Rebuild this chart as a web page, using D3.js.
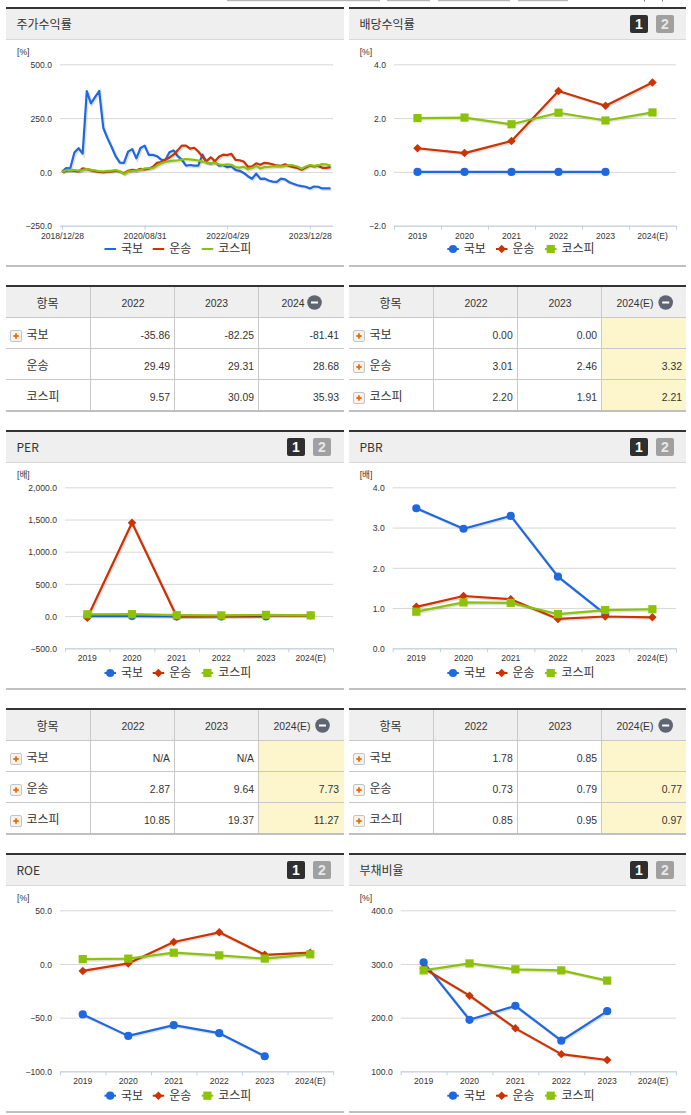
<!DOCTYPE html>
<html lang="ko"><head><meta charset="utf-8">
<script src="https://cdn.jsdelivr.net/npm/d3@7"></script>
<style>
html,body{margin:0;padding:0;background:#fff;overflow:hidden}
svg{display:block}
text{font-family:"Noto Sans CJK KR","Liberation Sans",sans-serif}
.num{font-family:"Liberation Sans",Arial,"Noto Sans CJK KR",sans-serif}
</style></head><body>
<script>
// ---------- data ----------
const seriesNames = ["국보","운송","코스피"];
const seriesColors = ["#2068e0","#cc3300","#8cc20a"];
const years = ["2019","2020","2021","2022","2023","2024(E)"];

const returnTickIndex = [0,20,40,60];
const returnTickLabels = ["2018/12/28","2020/08/31","2022/04/29","2023/12/28"];
const returnKukbo = [0,18,17,90,110,85,376,318,347,376,204,157,116,72,43,42,94,106,63,111,122,79,79,73,57,54,91,100,73,57,29,32,29,29,80,42,39,46,29,32,22,25,9,5,-5,-20,-32,-8,-32,-31,-40,-45,-46,-31,-35,-48,-55,-62,-66,-69,-77,-68,-69,-77,-77,-77];
const returnUnsong = [0,5,8,5,2,16,13,8,3,0,-1,1,2,6,2,-6,5,10,8,14,12,15,24,42,46,58,66,80,100,122,122,108,112,95,70,50,68,50,70,80,78,84,56,54,48,24,26,40,33,42,40,35,30,28,35,28,22,18,10,20,30,26,29,19,19,22];
const returnKospi = [0,8,9,8,6,8,13,10,7,3,2,5,6,8,3,-10,1,4,7,10,16,17,18,28,40,46,50,52,54,57,60,58,56,53,48,43,40,42,35,33,35,33,22,20,24,12,18,28,16,22,23,25,27,26,28,32,30,25,15,25,32,28,30,36,35,30];

const dividendKukbo = [0,0,0,0,0];
const dividendUnsong = [0.88,0.70,1.15,3.01,2.46,3.32];
const dividendKospi = [2.00,2.02,1.77,2.20,1.91,2.21];

const perKukbo = [0,0,-5,-5,-5];
const perUnsong = [-25,1450,-5,2.87,9.64,7.73];
const perKospi = [28,30,14,10.85,19.37,11.27];

const pbrKukbo = [3.48,2.97,3.29,1.78,0.85];
const pbrUnsong = [1.03,1.30,1.22,0.73,0.79,0.77];
const pbrKospi = [0.91,1.14,1.13,0.85,0.95,0.97];

const roeKukbo = [-47,-67,-57,-64.5,-86];
const roeUnsong = [-6.5,0.5,20.5,29.5,8.5,10.5];
const roeKospi = [4.5,5,10.5,8,5,9];

const debtKukbo = [303,196,222,157,212];
const debtUnsong = [292,241,180,132,121];
const debtKospi = [288,301,290,288,269];

const tableYears = ["2022","2023"];
const tableReturn = [["-35.86","-82.25","-81.41"],["29.49","29.31","28.68"],["9.57","30.09","35.93"]];
const tableDividend = [["0.00","0.00",""],["3.01","2.46","3.32"],["2.20","1.91","2.21"]];
const tablePer = [["N/A","N/A",""],["2.87","9.64","7.73"],["10.85","19.37","11.27"]];
const tablePbr = [["1.78","0.85",""],["0.73","0.79","0.77"],["0.85","0.95","0.97"]];

// ---------- layout ----------
const W = 691, H = 1115;
const svg = d3.select("body").append("svg").attr("width",W).attr("height",H).attr("viewBox",`0 0 ${W} ${H}`);
const LEFT = {x0:6,x1:344,cols:[90.5,174.5,258.5],val:[170,254,339],hdr:[47.5,133,216.5],icon:10.5,label:26.5,legend:[104.5,152.7,201.7]};
const RIGHT = {x0:349,x1:686,cols:[433.5,517.5,601.5],val:[512.7,597,682],hdr:[390.5,476,560],icon:353.5,label:369.5,legend:[447.3,496,545]};

// top strip remnants
[[227,153],[387,43],[438,72],[518,50]].forEach(r=>svg.append("rect").attr("x",r[0]).attr("y",0).attr("width",r[1]).attr("height",1.2).attr("fill","#b5b5b5"));
[644,662].forEach(x=>svg.append("rect").attr("x",x).attr("y",0).attr("width",1).attr("height",1.5).attr("fill","#777"));

function panel(side,top,bottom,title,buttons){
  const g = svg.append("g");
  g.append("rect").attr("x",side.x0).attr("y",top).attr("width",side.x1-side.x0).attr("height",2).attr("fill","#333");
  g.append("rect").attr("x",side.x0).attr("y",top+2).attr("width",side.x1-side.x0).attr("height",30).attr("fill","#efefef");
  g.append("rect").attr("x",side.x0).attr("y",top+32).attr("width",side.x1-side.x0).attr("height",1).attr("fill","#d8d8d8");
  g.append("rect").attr("x",side.x0).attr("y",bottom).attr("width",side.x1-side.x0).attr("height",2).attr("fill","#c0c0c0");
  g.append("text").attr("x",side.x0+10.5).attr("y",top+21.5).attr("font-size",12).attr("fill","#333").text(title);
  if(buttons){
    const bx = side===LEFT?[287,313]:[630,656];
    ["1","2"].forEach((t,i)=>{
      g.append("rect").attr("x",bx[i]).attr("y",top+8).attr("width",18).attr("height",18).attr("rx",2).attr("fill",i?"#a0a0a0":"#2f2f2f");
      g.append("text").attr("class","num").attr("x",bx[i]+9).attr("y",top+22).attr("text-anchor","middle").attr("font-size",14).attr("font-weight","bold").attr("fill",i?"#e8e8e8":"#fff").text(t);
    });
  }
}

function styleYAxis(g){
  g.select(".domain").remove();
  g.selectAll(".tick line").attr("stroke","#d8d8d8").attr("stroke-width",1);
  g.selectAll(".tick text").attr("class","num").attr("font-size",8.6).attr("fill","#333").attr("dy","0.38em");
}
function styleXAxis(g){
  g.selectAll(".domain").attr("stroke","#c0d0e0");
  g.selectAll(".tick line").attr("stroke","#c0d0e0");
}

function marker(g,i,x,y){
  const c = seriesColors[i];
  if(i===0) g.append("circle").attr("cx",x).attr("cy",y).attr("r",4.1).attr("fill",c);
  else if(i===1) g.append("path").attr("d",d3.symbol(d3.symbolDiamond2||d3.symbolDiamond,46)()).attr("transform",`translate(${x},${y})`).attr("fill",c);
  else g.append("rect").attr("x",x-4.1).attr("y",y-4.1).attr("width",8.2).attr("height",8.2).attr("fill",c);
}

function legend(side,y,markers){
  seriesNames.forEach((n,i)=>{
    const lx = side.legend[i];
    const g = svg.append("g");
    g.append("line").attr("x1",lx).attr("x2",lx+11.5).attr("y1",y).attr("y2",y).attr("stroke",seriesColors[i]).attr("stroke-width",2);
    if(markers) marker(g,i,lx+5.7,y);
    g.append("text").attr("x",lx+16.5).attr("y",y+4).attr("font-size",12).attr("fill","#333").text(n);
  });
}

function linePath(g,data,i,x,y){
  const line = d3.line().defined(d=>d.v!=null).x(d=>x(d.k)).y(d=>y(d.v));
  g.append("path").datum(data).attr("d",line).attr("fill","none").attr("stroke","#000").attr("stroke-opacity",0.12).attr("stroke-width",3).attr("transform","translate(1,1)");
  g.append("path").datum(data).attr("d",line).attr("fill","none").attr("stroke",seriesColors[i]).attr("stroke-width",2.2).attr("stroke-linejoin","round");
}

function catChart(cfg){
  const {side,x0,x1,yTop,yBot,ticks,unit,series,legendY} = cfg;
  const y = d3.scaleLinear().domain([ticks[0],ticks[ticks.length-1]]).range([yBot,yTop]);
  const band = d3.scaleBand().domain(years).range([x0,x1]);
  const edge = d3.scaleLinear().domain([0,years.length]).range([x0,x1]);
  const fmt = d3.format(",.1f");
  svg.append("g").attr("transform",`translate(${x0},0)`)
    .call(d3.axisLeft(y).tickValues(ticks).tickSize(-(x1-x0)).tickPadding(8).tickFormat(fmt)).call(styleYAxis);
  svg.append("g").attr("transform",`translate(0,${yBot})`)
    .call(d3.axisBottom(edge).tickValues(d3.range(years.length+1)).tickSize(4).tickSizeOuter(0).tickFormat("")).call(styleXAxis);
  svg.append("g").attr("transform",`translate(0,${yBot})`)
    .call(d3.axisBottom(band).tickSize(0).tickPadding(7))
    .call(g=>{g.select(".domain").remove();g.selectAll("text").attr("class","num").attr("font-size",8.6).attr("fill","#333");});
  svg.append("text").attr("class","num").attr("x",side===LEFT?17:359.7).attr("y",yTop-9.5).attr("font-size",8.6).attr("fill","#333").text(unit);
  const px = k=>band(k)+band.bandwidth()/2;
  series.forEach((vals,i)=>{
    const g = svg.append("g");
    const data = vals.map((v,j)=>({k:years[j],v}));
    linePath(g,data,i,px,y);
    data.forEach(d=>marker(g,i,px(d.k),y(d.v)));
  });
  legend(side,legendY,true);
}

function table(side,top,rows,lastHeader,isEstimate,iconFlags){
  const g = svg.append("g");
  const rowY = [top+32,top+63,top+94,top+125];
  const x0=side.x0,x1=side.x1;
  g.append("rect").attr("x",x0).attr("y",top).attr("width",x1-x0).attr("height",2).attr("fill","#333");
  g.append("rect").attr("x",x0).attr("y",top+2).attr("width",x1-x0).attr("height",30).attr("fill","#efefef");
  if(isEstimate) g.append("rect").attr("x",side.cols[2]).attr("y",rowY[0]).attr("width",x1-side.cols[2]).attr("height",93).attr("fill","#fdf6cd");
  [rowY[0],rowY[1],rowY[2]].forEach(yy=>g.append("rect").attr("x",x0).attr("y",yy).attr("width",x1-x0).attr("height",1).attr("fill","#c8c8c8"));
  side.cols.forEach(c=>g.append("rect").attr("x",c-0.5).attr("y",top+2).attr("width",1).attr("height",123).attr("fill","#c8c8c8"));
  g.append("rect").attr("x",x0).attr("y",rowY[3]).attr("width",x1-x0).attr("height",2).attr("fill","#c0c0c0");
  const hy = top+23;
  g.append("text").attr("x",side.hdr[0]).attr("y",hy).attr("text-anchor","middle").attr("font-size",12).attr("fill","#333").text("항목");
  tableYears.forEach((t,i)=>g.append("text").attr("class","num").attr("x",side.hdr[i+1]).attr("y",hy-1.5).attr("text-anchor","middle").attr("font-size",10.4).attr("fill","#333").text(t));
  const cx = isEstimate ? (side===LEFT?322.5:665.7) : 314.5;
  const tx = isEstimate ? (side===LEFT?292:635) : 293;
  g.append("text").attr("class","num").attr("x",tx).attr("y",hy-1.5).attr("text-anchor","middle").attr("font-size",10.4).attr("fill","#333").text(lastHeader);
  g.append("circle").attr("cx",cx).attr("cy",top+17.5).attr("r",7.3).attr("fill","#5f6573");
  g.append("rect").attr("x",cx-3.5).attr("y",top+16.5).attr("width",7).attr("height",2).attr("fill","#fff");
  seriesNames.forEach((n,r)=>{
    const base = rowY[r]+22;
    if(iconFlags[r]){
      const ix = side.icon, iy = rowY[r]+13.5;
      g.append("rect").attr("x",ix).attr("y",iy).attr("width",11).attr("height",11).attr("rx",1.5).attr("fill","#f6f2ee").attr("stroke","#c4c4c4");
      g.append("rect").attr("x",ix+2.8).attr("y",iy+4.6).attr("width",5.4).attr("height",1.8).attr("fill","#f26a00");
      g.append("rect").attr("x",ix+4.6).attr("y",iy+2.8).attr("width",1.8).attr("height",5.4).attr("fill","#f26a00");
    }
    g.append("text").attr("x",side.label).attr("y",base).attr("font-size",12).attr("fill","#333").text(n);
    rows[r].forEach((v,c)=>g.append("text").attr("class","num").attr("x",side.val[c]).attr("y",base).attr("text-anchor","end").attr("font-size",10.4).attr("fill","#333").text(v));
  });
}

// ---------- panels ----------
panel(LEFT,7,265,"주가수익률",false);
panel(RIGHT,7,265,"배당수익률",true);
panel(LEFT,430,688,"PER",true);
panel(RIGHT,430,688,"PBR",true);
panel(LEFT,853,1111,"ROE",true);
panel(RIGHT,853,1111,"부채비율",true);

// return chart (time axis)
(function(){
  const x0=60,x1=333,yTop=64.3,yBot=225.7;
  const ticks=[-250,0,250,500];
  const y=d3.scaleLinear().domain([-250,500]).range([yBot,yTop]);
  const x=d3.scaleLinear().domain([0,returnKukbo.length-1]).range([62,330.5]);
  svg.append("g").attr("transform",`translate(${x0},0)`)
    .call(d3.axisLeft(y).tickValues(ticks).tickSize(-(x1-x0)).tickPadding(8).tickFormat(d3.format(",.1f"))).call(styleYAxis);
  const axisX=d3.scaleLinear().domain(x.domain()).range(x.range());
  const lab=d3.scaleOrdinal().domain(returnTickIndex).range(returnTickLabels);
  svg.append("g").attr("transform",`translate(0,${yBot})`)
    .call(d3.axisBottom(axisX).tickValues(returnTickIndex).tickSize(4).tickSizeOuter(0).tickPadding(3).tickFormat(d=>lab(d)))
    .call(styleXAxis)
    .call(g=>{g.select(".domain").attr("d",`M${x0},0.5H${x1}`);g.selectAll("text").attr("class","num").attr("font-size",8.6).attr("fill","#333");});
  svg.append("text").attr("class","num").attr("x",17).attr("y",54.8).attr("font-size",8.6).attr("fill","#333").text("[%]");
  [returnKukbo,returnUnsong,returnKospi].forEach((vals,i)=>{
    linePath(svg.append("g"),vals.map((v,k)=>({k,v})),i,x,y);
  });
  legend(LEFT,249,false);
})();

catChart({side:RIGHT,x0:394,x1:676,yTop:64.3,yBot:225.7,ticks:[-2,0,2,4],unit:"[%]",legendY:249,series:[dividendKukbo,dividendUnsong,dividendKospi]});
catChart({side:LEFT,x0:65,x1:333,yTop:487.3,yBot:648.3,ticks:[-500,0,500,1000,1500,2000],unit:"[배]",legendY:673,series:[perKukbo,perUnsong,perKospi]});
catChart({side:RIGHT,x0:392.7,x1:676,yTop:487.3,yBot:648.3,ticks:[0,1,2,3,4],unit:"[배]",legendY:673,series:[pbrKukbo,pbrUnsong,pbrKospi]});
catChart({side:LEFT,x0:60,x1:333,yTop:910.3,yBot:1071.3,ticks:[-100,-50,0,50],unit:"[%]",legendY:1095.7,series:[roeKukbo,roeUnsong,roeKospi]});
catChart({side:RIGHT,x0:400.7,x1:676,yTop:910.3,yBot:1071.3,ticks:[100,200,300,400],unit:"[%]",legendY:1095.7,series:[debtKukbo,debtUnsong,debtKospi]});

table(LEFT,285,tableReturn,"2024",false,[true,false,false]);
table(RIGHT,285,tableDividend,"2024(E)",true,[true,true,true]);
table(LEFT,708,tablePer,"2024(E)",true,[true,true,true]);
table(RIGHT,708,tablePbr,"2024(E)",true,[true,true,true]);
</script>
</body></html>
